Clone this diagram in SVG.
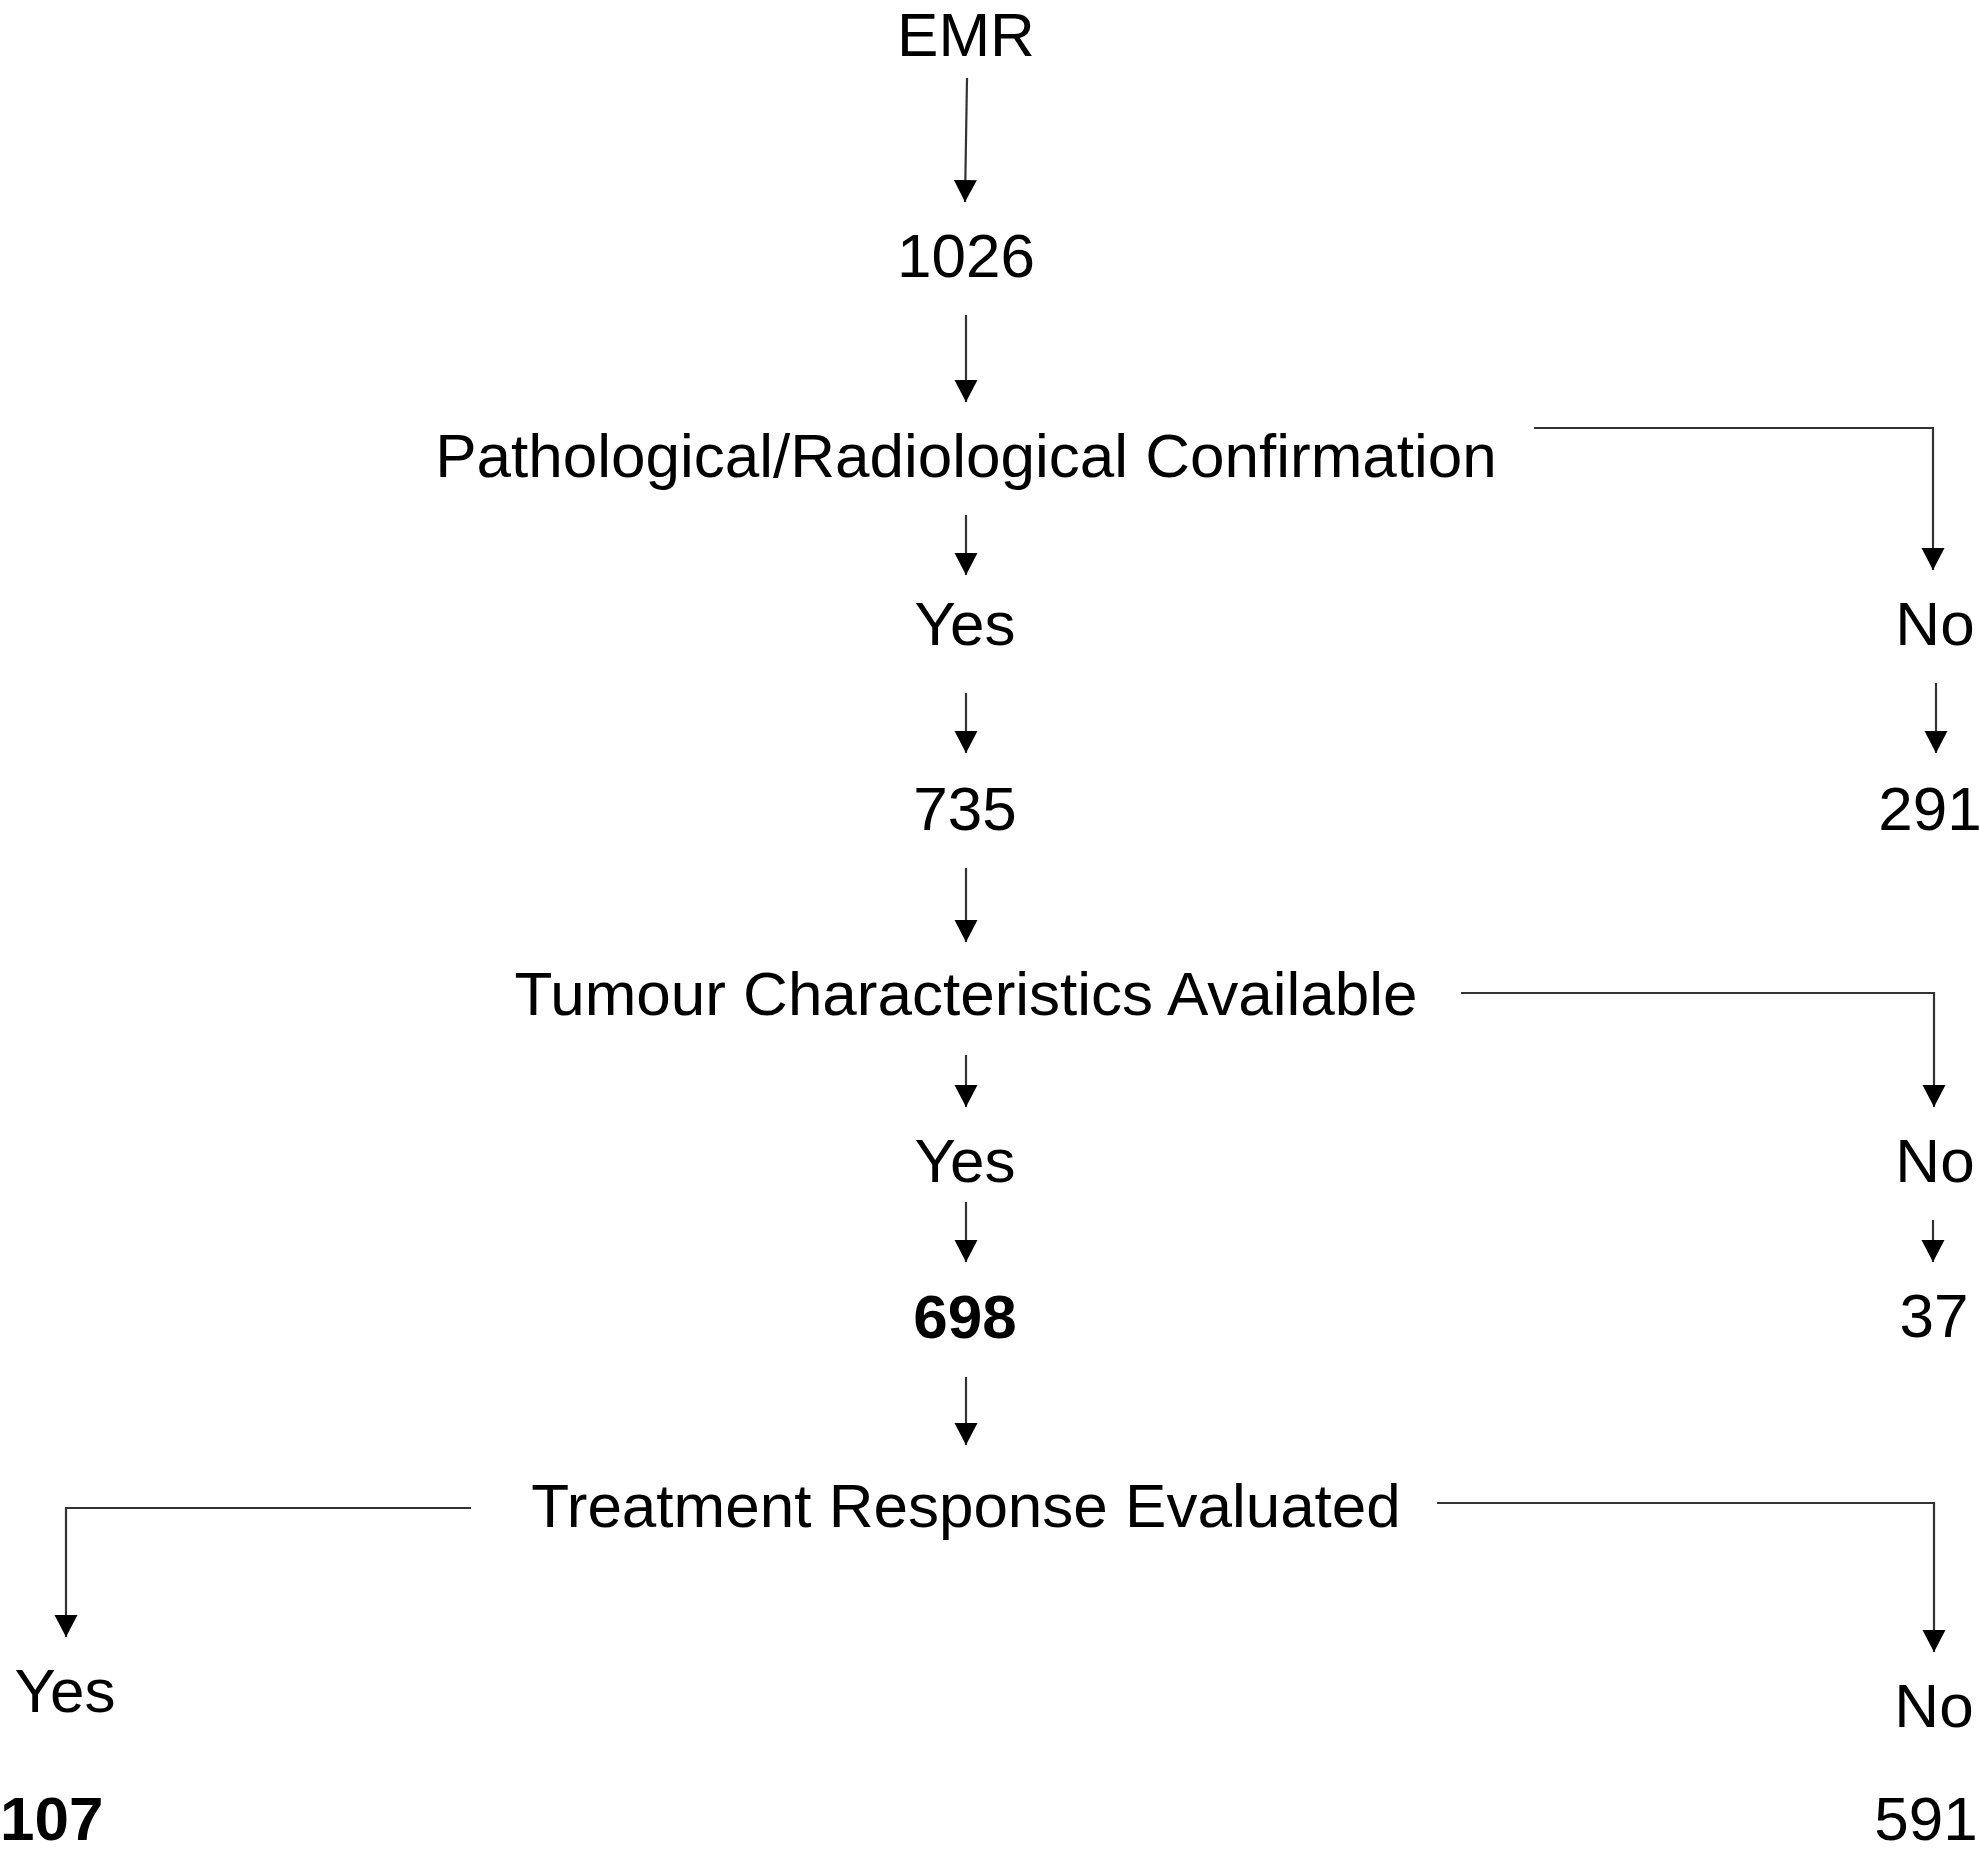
<svg xmlns="http://www.w3.org/2000/svg" width="1980" height="1854" viewBox="0 0 1980 1854">
<style>
.t{font-family:"Liberation Sans",Arial,sans-serif;font-size:62px;fill:#000;text-anchor:middle}
.b{font-weight:bold}
.c{fill:none;stroke:#333;stroke-width:2.2}
</style>
<defs>
<marker id="ah" markerUnits="userSpaceOnUse" markerWidth="23" markerHeight="24" refX="22" refY="11.5" orient="auto" viewBox="0 0 23 24">
<path d="M0,0 L22,11.5 L0,23 z" fill="#000"/>
</marker>
</defs>
<rect width="1980" height="1854" fill="#fff"/>
<g id="connectors">
<path class="c" d="M967,78 L965,202" marker-end="url(#ah)"/>
<path class="c" d="M966,315 L966,402" marker-end="url(#ah)"/>
<path class="c" d="M966,515 L966,575" marker-end="url(#ah)"/>
<path class="c" d="M1534,428 L1933,428 L1933,570" marker-end="url(#ah)"/>
<path class="c" d="M966,693 L966,753" marker-end="url(#ah)"/>
<path class="c" d="M1936,683 L1936,753" marker-end="url(#ah)"/>
<path class="c" d="M966,868 L966,942" marker-end="url(#ah)"/>
<path class="c" d="M966,1055 L966,1107" marker-end="url(#ah)"/>
<path class="c" d="M1461,993 L1934,993 L1934,1107" marker-end="url(#ah)"/>
<path class="c" d="M966,1202 L966,1262" marker-end="url(#ah)"/>
<path class="c" d="M1933,1220 L1933,1262" marker-end="url(#ah)"/>
<path class="c" d="M966,1377 L966,1445" marker-end="url(#ah)"/>
<path class="c" d="M471,1508 L66,1508 L66,1637" marker-end="url(#ah)"/>
<path class="c" d="M1437,1503 L1934,1503 L1934,1652" marker-end="url(#ah)"/>
</g>
<g id="n-emr"><text class="t" x="966" y="56">EMR</text></g>
<g id="n-1026"><text class="t" x="966" y="277">1026</text></g>
<g id="n-path"><text class="t" x="966" y="477">Pathological/Radiological Confirmation</text></g>
<g id="n-yes1"><text class="t" x="965" y="645">Yes</text></g>
<g id="n-no1"><text class="t" x="1935" y="645">No</text></g>
<g id="n-735"><text class="t" x="965" y="830">735</text></g>
<g id="n-291"><text class="t" x="1930" y="830">291</text></g>
<g id="n-tumour"><text class="t" x="966" y="1015">Tumour Characteristics Available</text></g>
<g id="n-yes2"><text class="t" x="965" y="1182">Yes</text></g>
<g id="n-no2"><text class="t" x="1935" y="1182">No</text></g>
<g id="n-698"><text class="t b" x="965" y="1338">698</text></g>
<g id="n-37"><text class="t" x="1934" y="1337">37</text></g>
<g id="n-treat"><text class="t" x="966" y="1527">Treatment Response Evaluated</text></g>
<g id="n-yes3"><text class="t" x="65" y="1712">Yes</text></g>
<g id="n-no3"><text class="t" x="1934" y="1727">No</text></g>
<g id="n-107"><text class="t b" x="0" y="1840" style="text-anchor:start">107</text></g>
<g id="n-591"><text class="t" x="1926" y="1840">591</text></g>
</svg>
